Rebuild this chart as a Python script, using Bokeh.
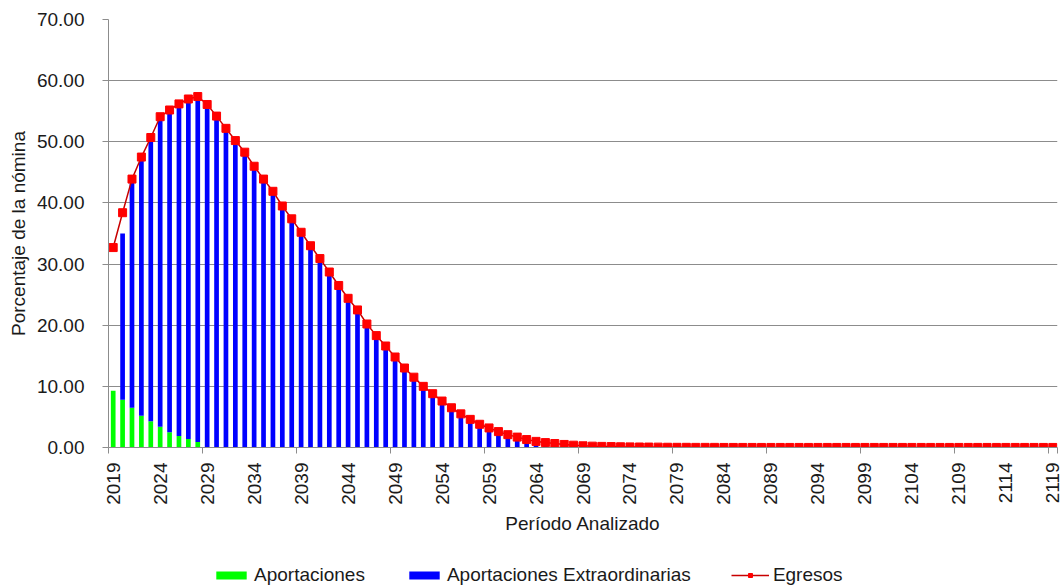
import math
from bokeh.plotting import figure
from bokeh.layouts import column
from bokeh.models import (ColumnDataSource, FixedTicker, NumeralTickFormatter,
                          Legend, LegendItem, Range1d)
from bokeh.embed import file_html
from bokeh.resources import INLINE

years = list(range(2019, 2120))

aportaciones = [9.3, 7.8, 6.5, 5.2, 4.3, 3.4, 2.5, 1.9, 1.4, 0.9] + [0.0] * 91

egresos = [
    32.7, 38.4, 43.9, 47.5, 50.7, 54.1, 55.2, 56.2, 57.0, 57.4,   # 2019-2028
    56.1, 54.2, 52.2, 50.2, 48.3, 46.0, 43.9, 41.9, 39.5, 37.4,   # 2029-2038
    35.2, 33.0, 30.9, 28.7, 26.5, 24.4, 22.5, 20.2, 18.3, 16.6,   # 2039-2048
    14.8, 13.0, 11.5, 10.0, 8.8, 7.6, 6.5, 5.5, 4.6, 3.8,         # 2049-2058
    3.2, 2.6, 2.1, 1.7, 1.3, 1.0, 0.8, 0.65, 0.5, 0.38,           # 2059-2068
    0.28, 0.22, 0.18, 0.15, 0.12, 0.1, 0.08, 0.07, 0.06, 0.04,    # 2069-2078
    0.03, 0.03, 0.02, 0.02, 0.02, 0.01, 0.01, 0.01, 0.01, 0.01,   # 2079-2088
    0.01, 0.01, 0.01, 0.01, 0.01, 0.01, 0.01, 0.01, 0.01, 0.01,   # 2089-2098
    0.01, 0.01, 0.01, 0.01, 0.01, 0.01, 0.01, 0.01, 0.01, 0.01,   # 2099-2108
    0.01, 0.01, 0.01, 0.01, 0.01, 0.01, 0.01, 0.01, 0.01, 0.01,   # 2109-2118
    0.01,                                                          # 2119
]

extraordinarias = [
    0.0, 27.2, 37.4, 42.3, 46.4, 50.7, 52.7, 54.3, 55.6, 56.5,    # 2019-2028
    56.1, 54.2, 52.2, 50.2, 48.3, 46.0, 43.9, 41.9, 39.5, 37.4,   # 2029-2038
    35.2, 33.0, 30.9, 28.7, 26.5, 24.4, 22.5, 20.2, 18.3, 16.6,   # 2039-2048
    14.8, 13.0, 11.5, 10.0, 8.8, 7.6, 6.5, 5.5, 4.6, 3.8,         # 2049-2058
    3.2, 2.6, 2.1, 1.7, 1.3, 1.0, 0.8, 0.65, 0.5, 0.38,           # 2059-2068
    0.28, 0.22, 0.18, 0.15, 0.12, 0.1, 0.08, 0.07, 0.06, 0.04,    # 2069-2078
    0.03, 0.03, 0.02, 0.02, 0.02, 0.01, 0.01, 0.01, 0.01, 0.01,   # 2079-2088
    0.01, 0.01, 0.01, 0.01, 0.01, 0.01, 0.01, 0.01, 0.01, 0.01,   # 2089-2098
    0.01, 0.01, 0.01, 0.01, 0.01, 0.01, 0.01, 0.01, 0.01, 0.01,   # 2099-2108
    0.01, 0.01, 0.01, 0.01, 0.01, 0.01, 0.01, 0.01, 0.01, 0.01,   # 2109-2118
    0.01,                                                          # 2119
]

x_labels = list(range(2019, 2120, 5))
x_tick_marks = [y - 0.5 for y in range(2019, 2120, 10)] + [2119.5]
y_ticks = [0, 10, 20, 30, 40, 50, 60, 70]

FONT = "Liberation Sans"
FS = "19px"
GREEN, BLUE, RED, LINE_RED = "#00FF00", "#0000FF", "#FF0000", "#C80000"

source = ColumnDataSource(dict(year=years, ap=aportaciones, ex=extraordinarias, eg=egresos))

p = figure(width=1064, height=560, output_backend="svg", toolbar_location=None,
           x_range=Range1d(2018.5, 2119.5), y_range=Range1d(0, 70),
           min_border_left=108, min_border_right=7, min_border_top=19,
           min_border_bottom=113)
p.outline_line_color = None
p.background_fill_color = "white"
p.border_fill_color = "white"

bars = p.vbar_stack(["ap", "ex"], x="year", width=0.5, source=source,
                    color=[GREEN, BLUE], line_color=None)
ln = p.line("year", "eg", source=source, line_color=LINE_RED, line_width=1.5)
sc = p.scatter("year", "eg", source=source, marker="square", size=8,
               fill_color=RED, line_color=RED)

# grid
p.xgrid.grid_line_color = None
p.ygrid.grid_line_color = "#8C8C8C"
p.ygrid.grid_line_width = 1
p.ygrid.ticker = FixedTicker(ticks=y_ticks)

# y axis
p.yaxis.ticker = FixedTicker(ticks=y_ticks)
p.yaxis.formatter = NumeralTickFormatter(format="0.00")
p.yaxis.axis_label = "Porcentaje de la nómina"
p.yaxis.axis_line_color = "#8C8C8C"
p.yaxis.major_tick_line_color = "#8C8C8C"
p.yaxis.major_tick_out = 6
p.yaxis.major_tick_in = 0
p.yaxis.minor_tick_line_color = None
p.yaxis.major_label_standoff = 18
p.yaxis.axis_label_standoff = 5
p.yaxis.major_label_text_font = FONT
p.yaxis.major_label_text_font_size = FS
p.yaxis.major_label_text_color = "#1A1A1A"
p.yaxis.axis_label_text_font = FONT
p.yaxis.axis_label_text_font_size = FS
p.yaxis.axis_label_text_font_style = "normal"
p.yaxis.axis_label_text_color = "#1A1A1A"

# x axis
p.xaxis.ticker = FixedTicker(ticks=x_labels, minor_ticks=x_tick_marks)
p.xaxis.major_label_orientation = math.pi / 2
p.xaxis.axis_label = "Período Analizado"
p.xaxis.axis_line_color = "#8C8C8C"
p.xaxis.major_tick_line_color = None
p.xaxis.major_tick_out = 6
p.xaxis.major_tick_in = 0
p.xaxis.minor_tick_line_color = "#8C8C8C"
p.xaxis.minor_tick_out = 6
p.xaxis.minor_tick_in = 0
p.xaxis.major_label_standoff = 9
p.xaxis.axis_label_standoff = 5
p.xaxis.major_label_text_font = FONT
p.xaxis.major_label_text_font_size = FS
p.xaxis.major_label_text_color = "#1A1A1A"
p.xaxis.axis_label_text_font = FONT
p.xaxis.axis_label_text_font_size = FS
p.xaxis.axis_label_text_font_style = "normal"
p.xaxis.axis_label_text_color = "#1A1A1A"

# legend strip (separate small figure under the chart, frame aligned with the chart)
lg = figure(width=1064, height=26, output_backend="svg", toolbar_location=None,
            x_range=Range1d(0, 1), y_range=Range1d(0, 1),
            min_border_left=108, min_border_right=7, min_border_top=0, min_border_bottom=0)
lg.outline_line_color = None
lg.axis.visible = False
lg.grid.visible = False
dummy = ColumnDataSource(dict(x=[-10.0], y=[-10.0]))
r_ap = lg.vbar(x="x", top="y", width=0.5, source=dummy, color=GREEN, line_color=None)
r_ex = lg.vbar(x="x", top="y", width=0.5, source=dummy, color=BLUE, line_color=None)
r_ln = lg.line("x", "y", source=dummy, line_color=LINE_RED, line_width=1.5)
r_sc = lg.scatter("x", "y", source=dummy, marker="square", size=8,
                  fill_color=RED, line_color=RED)

legend = Legend(items=[
    LegendItem(label="Aportaciones", renderers=[r_ap]),
    LegendItem(label="Aportaciones Extraordinarias", renderers=[r_ex]),
    LegendItem(label="Egresos", renderers=[r_ln, r_sc]),
], orientation="horizontal", location=(104, 0))
legend.border_line_color = None
legend.background_fill_alpha = 0
legend.padding = 0
legend.margin = 0
legend.spacing = 40
legend.glyph_width = 38
legend.glyph_height = 10
legend.label_height = 20
legend.label_standoff = 4
legend.label_text_font = FONT
legend.label_text_font_size = FS
legend.label_text_color = "#1A1A1A"
lg.add_layout(legend, "center")

layout = column(p, lg, spacing=0)
open("out.html", "w").write(file_html(layout, INLINE))
